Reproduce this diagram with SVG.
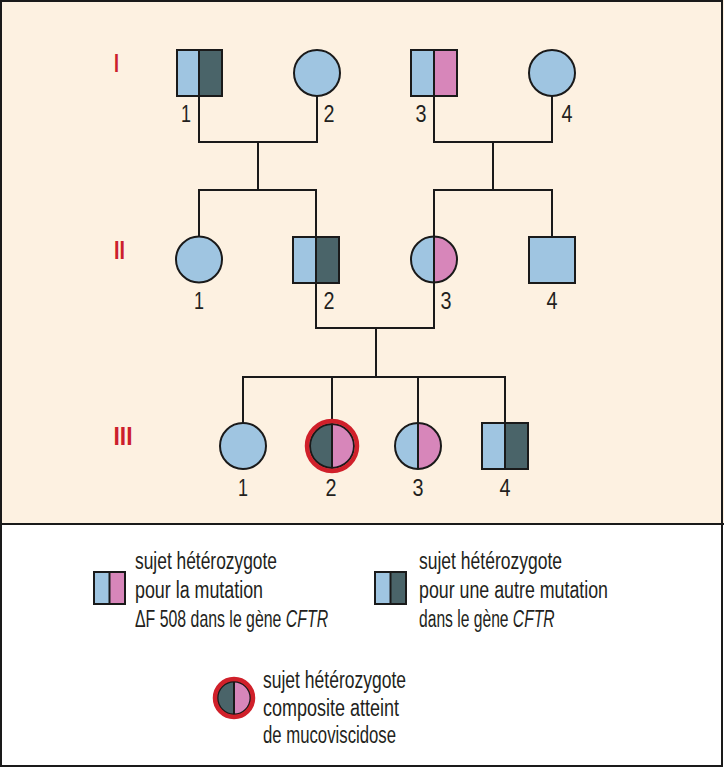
<svg xmlns="http://www.w3.org/2000/svg" width="724" height="768" viewBox="0 0 724 768">
<style>
.lb{fill:#9fc5e1}
.dk{fill:#4a6469}
.pk{fill:#d786ba}
.ol{fill:none;stroke:#1a1a1a;stroke-width:2}
.dv{stroke:#1a1a1a;stroke-width:2}
.ring{fill:none;stroke:#d0202a;stroke-width:4.5}
.num{font-family:"Liberation Sans Narrow","Liberation Sans",Arial,sans-serif;font-size:23px;fill:#231f20;text-anchor:middle}
.gen{font-family:"Liberation Sans",Arial,sans-serif;font-weight:bold;font-size:26px;fill:#cc1f2c}
.lg{font-family:"Liberation Sans Narrow","Liberation Sans",Arial,sans-serif;font-size:23px;fill:#231f20}
.it{font-style:italic}
.conn{fill:none;stroke:#1a1a1a;stroke-width:2}
</style>
<rect x="0" y="0" width="724" height="524" fill="#fdf1e1"/>
<rect x="0" y="524" width="724" height="244" fill="#ffffff"/>
<rect x="1" y="1" width="721" height="765" fill="none" stroke="#1a1a1a" stroke-width="2"/>
<line x1="0" y1="524" x2="724" y2="524" stroke="#1a1a1a" stroke-width="2"/>

<g id="gen-labels">
<text class="gen" x="114" y="71.5" textLength="5" lengthAdjust="spacingAndGlyphs">I</text>
<text class="gen" x="114" y="259" textLength="11" lengthAdjust="spacingAndGlyphs">II</text>
<text class="gen" x="113.5" y="445" textLength="19" lengthAdjust="spacingAndGlyphs">III</text>
</g>

<g id="connectors">
<path class="conn" d="M199 96V142H317V96"/>
<path class="conn" d="M258 142V190"/>
<path class="conn" d="M434 96V142H552V96"/>
<path class="conn" d="M493 142V190"/>
<path class="conn" d="M199 236.5V190H316V237"/>
<path class="conn" d="M434 236.5V190H552V237"/>
<path class="conn" d="M316 283V328H434V282.5"/>
<path class="conn" d="M376 328V377"/>
<path class="conn" d="M243 423V377H505V423"/>
<path class="conn" d="M332 377V421"/>
<path class="conn" d="M418 377V423"/>
</g>

<g id="I-1">
<rect class="lb" x="177" y="50" width="22" height="46"/>
<rect class="dk" x="199" y="50" width="23" height="46"/>
<line class="dv" x1="199" y1="50" x2="199" y2="96"/>
<rect class="ol" x="177" y="50" width="45" height="46"/>
<text class="num" x="186" y="122" textLength="10" lengthAdjust="spacingAndGlyphs">1</text>
</g>
<g id="I-2">
<circle class="lb" cx="317" cy="73" r="23"/>
<circle class="ol" cx="317" cy="73" r="23"/>
<text class="num" x="329" y="122" textLength="11" lengthAdjust="spacingAndGlyphs">2</text>
</g>
<g id="I-3">
<rect class="lb" x="411" y="50" width="23" height="46"/>
<rect class="pk" x="434" y="50" width="23" height="46"/>
<line class="dv" x1="434" y1="50" x2="434" y2="96"/>
<rect class="ol" x="411" y="50" width="46" height="46"/>
<text class="num" x="421" y="122" textLength="11" lengthAdjust="spacingAndGlyphs">3</text>
</g>
<g id="I-4">
<circle class="lb" cx="552" cy="73" r="23"/>
<circle class="ol" cx="552" cy="73" r="23"/>
<text class="num" x="567" y="122" textLength="11" lengthAdjust="spacingAndGlyphs">4</text>
</g>

<g id="II-1">
<circle class="lb" cx="199" cy="259.5" r="23"/>
<circle class="ol" cx="199" cy="259.5" r="23"/>
<text class="num" x="199" y="309" textLength="10" lengthAdjust="spacingAndGlyphs">1</text>
</g>
<g id="II-2">
<rect class="lb" x="293" y="237" width="23" height="46"/>
<rect class="dk" x="316" y="237" width="23" height="46"/>
<line class="dv" x1="316" y1="237" x2="316" y2="283"/>
<rect class="ol" x="293" y="237" width="46" height="46"/>
<text class="num" x="329" y="309" textLength="11" lengthAdjust="spacingAndGlyphs">2</text>
</g>
<g id="II-3">
<path class="lb" d="M434 236.5A23 23 0 0 0 434 282.5Z"/>
<path class="pk" d="M434 236.5A23 23 0 0 1 434 282.5Z"/>
<line class="dv" x1="434" y1="236.5" x2="434" y2="282.5"/>
<circle class="ol" cx="434" cy="259.5" r="23"/>
<text class="num" x="446" y="309" textLength="11" lengthAdjust="spacingAndGlyphs">3</text>
</g>
<g id="II-4">
<rect class="lb" x="529" y="237" width="46" height="46"/>
<rect class="ol" x="529" y="237" width="46" height="46"/>
<text class="num" x="552" y="309" textLength="11" lengthAdjust="spacingAndGlyphs">4</text>
</g>

<g id="III-1">
<circle class="lb" cx="243" cy="446" r="23"/>
<circle class="ol" cx="243" cy="446" r="23"/>
<text class="num" x="243" y="496" textLength="10" lengthAdjust="spacingAndGlyphs">1</text>
</g>
<g id="III-2">
<path class="dk" d="M332 423A23 23 0 0 0 332 469Z"/>
<path class="pk" d="M332 423A23 23 0 0 1 332 469Z"/>
<line class="dv" x1="332" y1="423" x2="332" y2="469"/>
<circle class="ol" cx="332" cy="446" r="22"/>
<circle class="ring" cx="332" cy="446" r="25"/>
<text class="num" x="331" y="496" textLength="11" lengthAdjust="spacingAndGlyphs">2</text>
</g>
<g id="III-3">
<path class="lb" d="M418 423A23 23 0 0 0 418 469Z"/>
<path class="pk" d="M418 423A23 23 0 0 1 418 469Z"/>
<line class="dv" x1="418" y1="423" x2="418" y2="469"/>
<circle class="ol" cx="418" cy="446" r="23"/>
<text class="num" x="418" y="496" textLength="11" lengthAdjust="spacingAndGlyphs">3</text>
</g>
<g id="III-4">
<rect class="lb" x="482" y="423" width="23" height="46"/>
<rect class="dk" x="505" y="423" width="23" height="46"/>
<line class="dv" x1="505" y1="423" x2="505" y2="469"/>
<rect class="ol" x="482" y="423" width="46" height="46"/>
<text class="num" x="505" y="496" textLength="11" lengthAdjust="spacingAndGlyphs">4</text>
</g>

<g id="legend-df508">
<rect class="lb" x="94" y="572" width="15.5" height="32"/>
<rect class="pk" x="109.5" y="572" width="15.5" height="32"/>
<line class="dv" x1="109.5" y1="572" x2="109.5" y2="604"/>
<rect class="ol" x="94" y="572" width="31" height="32"/>
<text class="lg" x="135" y="569" textLength="142" lengthAdjust="spacingAndGlyphs">sujet hétérozygote</text>
<text class="lg" x="135" y="598" textLength="128" lengthAdjust="spacingAndGlyphs">pour la mutation</text>
<text class="lg" transform="translate(135,627) scale(0.69,1)" x="0" y="0">ΔF 508 dans le gène <tspan class="it">CFTR</tspan></text>
</g>
<g id="legend-other">
<rect class="lb" x="375" y="572" width="15.5" height="32"/>
<rect class="dk" x="390.5" y="572" width="15.5" height="32"/>
<line class="dv" x1="390.5" y1="572" x2="390.5" y2="604"/>
<rect class="ol" x="375" y="572" width="31" height="32"/>
<text class="lg" x="419" y="569" textLength="143" lengthAdjust="spacingAndGlyphs">sujet hétérozygote</text>
<text class="lg" x="419" y="598" textLength="189" lengthAdjust="spacingAndGlyphs">pour une autre mutation</text>
<text class="lg" transform="translate(419,627) scale(0.68,1)" x="0" y="0">dans le gène <tspan class="it">CFTR</tspan></text>
</g>
<g id="legend-composite">
<path class="dk" d="M234 681A17 17 0 0 0 234 715Z"/>
<path class="pk" d="M234 681A17 17 0 0 1 234 715Z"/>
<line class="dv" x1="234" y1="681" x2="234" y2="715"/>
<circle class="ol" cx="234" cy="698" r="16.5"/>
<circle class="ring" cx="234" cy="698" r="19"/>
<text class="lg" x="263" y="688" textLength="143" lengthAdjust="spacingAndGlyphs">sujet hétérozygote</text>
<text class="lg" x="263" y="716" textLength="136" lengthAdjust="spacingAndGlyphs">composite atteint</text>
<text class="lg" x="263" y="743" textLength="133" lengthAdjust="spacingAndGlyphs">de mucoviscidose</text>
</g>
</svg>
